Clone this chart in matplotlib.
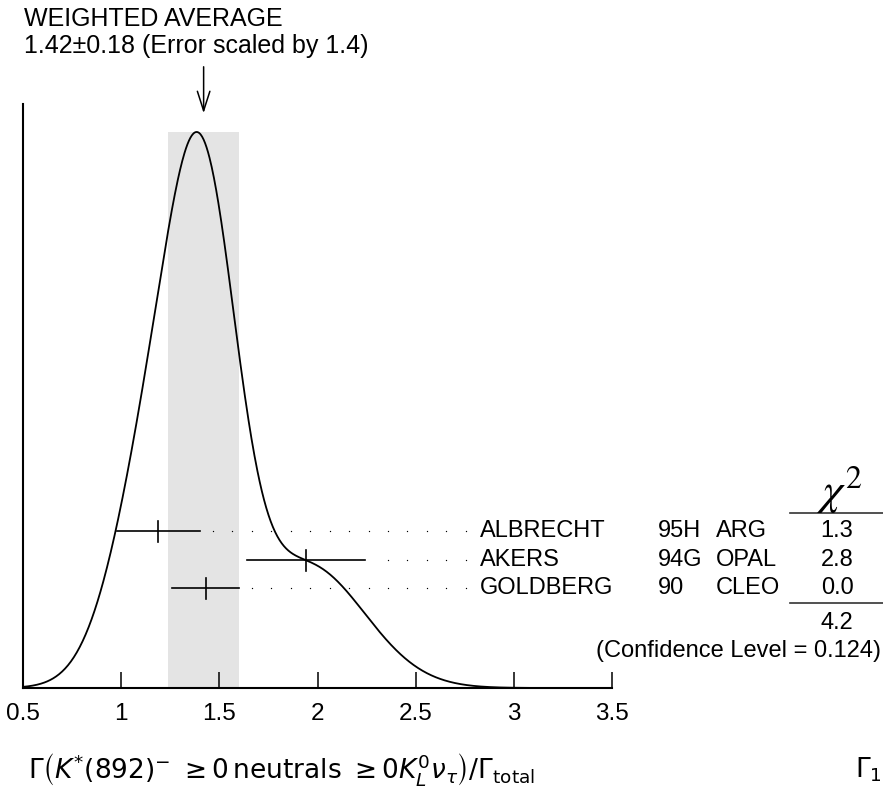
import matplotlib
matplotlib.use("Agg")
import matplotlib.pyplot as plt
import numpy as np

plt.rcParams['font.family'] = ['Liberation Sans', 'DejaVu Sans']
plt.rcParams['mathtext.fontset'] = 'dejavusans'

authors = ['ALBRECHT', 'AKERS', 'GOLDBERG']
years = ['95H', '94G', '90']
experiments = ['ARG', 'OPAL', 'CLEO']
values = [1.19, 1.94, 1.43]
errors = [0.21, 0.30, 0.17]
chi2 = ['1.3', '2.8', '0.0']
chi2_total = '4.2'
conf_level = '0.124'

avg = 1.42
avg_err = 0.18
scale = 1.4
xticks = [0.5, 1, 1.5, 2, 2.5, 3, 3.5]

W, H = 883, 791


def fp(x, y):
    # pixel (from top-left) -> figure fraction
    return x / W, 1 - y / H


fig = plt.figure(figsize=(W / 100, H / 100), dpi=100)
ax_left, ax_right, ax_top, ax_bot = 23, 612, 104, 688
ax = fig.add_axes([ax_left / W, 1 - ax_bot / H, (ax_right - ax_left) / W, (ax_bot - ax_top) / H])

# ideogram: each measurement a gaussian with area ~ 1/sigma
x = np.linspace(0.5, 3.5, 800)
vals = np.array(values)
errs = np.array(errors)
curve = np.zeros_like(x)
for v, e in zip(vals, errs):
    curve += np.exp(-0.5 * ((x - v) / e) ** 2) / e ** 2
peak_frac = (ax_bot - 132) / (ax_bot - ax_top)
ymax = curve.max() / peak_frac

ax.axvspan(avg - avg_err, avg + avg_err, ymin=0, ymax=peak_frac, color='#e4e4e4', lw=0, zorder=0)
ax.plot(x, curve, color='black', lw=1.3, zorder=3, clip_on=False)

ax.set_xlim(0.5, 3.5)
ax.set_ylim(0, ymax)
for s in ['top', 'right']:
    ax.spines[s].set_visible(False)
ax.spines['left'].set_linewidth(1.5)
ax.spines['bottom'].set_linewidth(1.5)
ax.set_yticks([])
ax.set_xticks(xticks)
ax.set_xticklabels([f'{t:g}' for t in xticks])
ax.tick_params(axis='x', direction='in', length=11.5, width=1.1, pad=11, labelsize=17.5)
ax.patch.set_alpha(0)

# error bars + dotted leaders + labels
rows = [531, 560, 588]
trans = ax.get_xaxis_transform()
dot_end = 2.755
dot_step = 0.099
for i, (v, e) in enumerate(zip(values, errors)):
    yf = (ax_bot - rows[i]) / (ax_bot - ax_top)
    ax.plot([v - e, v + e], [yf, yf], color='black', lw=1.2, transform=trans, clip_on=False, zorder=4)
    dy = 10.5 / (ax_bot - ax_top)
    ax.plot([v, v], [yf - dy, yf + dy], color='black', lw=1.2, transform=trans, clip_on=False, zorder=4)
    dots = dot_end - dot_step * np.arange(40)
    dots = dots[dots > v + e + 0.05]
    ax.scatter(dots, np.full(len(dots), yf), s=0.9, color='black', lw=0, transform=trans, clip_on=False, zorder=4)
    fig.text(*fp(480, rows[i]), authors[i], ha='left', va='center', fontsize=17)
    fig.text(*fp(658, rows[i]), years[i], ha='left', va='center', fontsize=17)
    fig.text(*fp(716, rows[i]), experiments[i], ha='left', va='center', fontsize=17)
    fig.text(*fp(837, rows[i]), chi2[i], ha='center', va='center', fontsize=17)

# chi2 column
fig.text(*fp(840, 490), r'$\chi^2$', ha='center', va='center', fontsize=33, math_fontfamily='stix')
for yl in [513, 603]:
    fig.add_artist(plt.Line2D([790 / W, 1.0], [1 - yl / H, 1 - yl / H], color='#333333', lw=1.2))
fig.text(*fp(837, 623), chi2_total, ha='center', va='center', fontsize=17)
fig.text(*fp(881, 651), f'(Confidence Level = {conf_level})', ha='right', va='center', fontsize=17)

# weighted average header + arrow
fig.text(*fp(24, 19), 'WEIGHTED AVERAGE', ha='left', va='center', fontsize=18)
fig.text(*fp(24, 46), f'{avg:.2f}\u00b1{avg_err:.2f} (Error scaled by {scale})', ha='left', va='center', fontsize=18)
ax.annotate('', xy=(avg, H - 116), xycoords=('data', 'figure pixels'),
            xytext=(avg, H - 64), textcoords=('data', 'figure pixels'),
            arrowprops=dict(arrowstyle='->,head_length=1.4,head_width=0.45', lw=1.1, color='black'))

# quantity label
fig.text(*fp(28, 770),
         r'$\Gamma\left(K^{*}(892)^{-}\ \geq 0\,\mathrm{neutrals}\ \geq 0K_{L}^{0}\nu_{\tau}\right)/\Gamma_{\mathrm{total}}$',
         ha='left', va='center', fontsize=19)
fig.text(*fp(855, 770), r'$\Gamma_{1}$', ha='left', va='center', fontsize=19)

fig.savefig('out.png', dpi=100)
